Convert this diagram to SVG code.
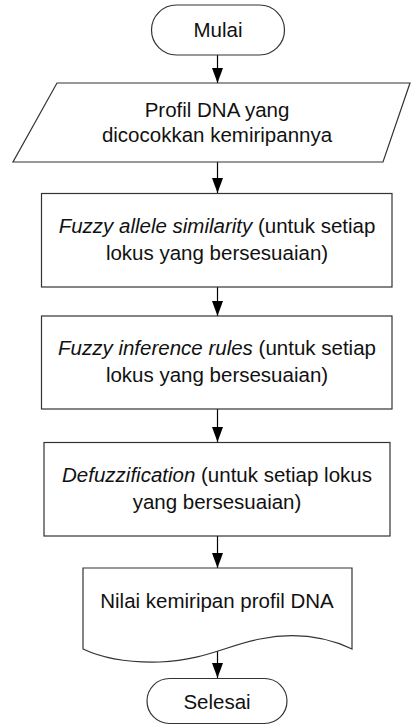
<svg xmlns="http://www.w3.org/2000/svg" width="414" height="728" viewBox="0 0 414 728">
<style>
.s{fill:#fff;stroke:#333;stroke-width:1.2}
.t{font-family:"Liberation Sans",Arial,sans-serif;font-size:20.5px;fill:#111;text-anchor:middle}
.i{font-style:italic}
.c{stroke:#000;stroke-width:1.2;fill:none}
</style>
<defs>
<marker id="a" markerWidth="15" markerHeight="11" refX="15" refY="5.5" orient="auto" markerUnits="userSpaceOnUse" viewBox="0 0 15 11">
<path d="M0,0 L15,5.5 L0,11 Z" fill="#000"/>
</marker>
</defs>
<g id="connectors">
<line class="c" x1="217.5" y1="55" x2="217.5" y2="83" marker-end="url(#a)"/>
<line class="c" x1="217.5" y1="162" x2="217.5" y2="193" marker-end="url(#a)"/>
<line class="c" x1="217.5" y1="287" x2="217.5" y2="316" marker-end="url(#a)"/>
<line class="c" x1="217.5" y1="409" x2="217.5" y2="442" marker-end="url(#a)"/>
<line class="c" x1="217.5" y1="536" x2="217.5" y2="568" marker-end="url(#a)"/>
<line class="c" x1="217.5" y1="651" x2="217.5" y2="678" marker-end="url(#a)"/>
</g>
<g id="mulai">
<rect class="s" x="151.5" y="5" width="133" height="50" rx="25" ry="25"/>
<text class="t" x="218" y="37">Mulai</text>
</g>
<g id="input">
<polygon class="s" points="57,83 410,83 383,162 13,162"/>
<text class="t" x="217" y="117">Profil DNA yang</text>
<text class="t" x="217" y="142">dicocokkan kemiripannya</text>
</g>
<g id="similarity">
<rect class="s" x="41.5" y="193.5" width="350.5" height="93.5"/>
<text class="t" x="217" y="233"><tspan class="i">Fuzzy allele similarity</tspan> (untuk setiap</text>
<text class="t" x="217" y="260">lokus yang bersesuaian)</text>
</g>
<g id="inference">
<rect class="s" x="41.5" y="316" width="350.5" height="93"/>
<text class="t" x="217" y="355"><tspan class="i">Fuzzy inference rules</tspan> (untuk setiap</text>
<text class="t" x="217" y="382">lokus yang bersesuaian)</text>
</g>
<g id="defuzzification">
<rect class="s" x="44" y="442.5" width="346" height="93.5"/>
<text class="t" x="217" y="482"><tspan class="i">Defuzzification</tspan> (untuk setiap lokus</text>
<text class="t" x="217" y="509">yang bersesuaian)</text>
</g>
<g id="output">
<path class="s" d="M83,568 L352,568 L352,649 C320,634 290,633 260,639 C225,646 205,660 160,662 C125,663 100,657 83,649 Z"/>
<text class="t" x="217" y="608">Nilai kemiripan profil DNA</text>
</g>
<g id="selesai">
<rect class="s" x="147" y="678.5" width="140" height="45" rx="22.5" ry="22.5"/>
<text class="t" x="217" y="709">Selesai</text>
</g>
</svg>
